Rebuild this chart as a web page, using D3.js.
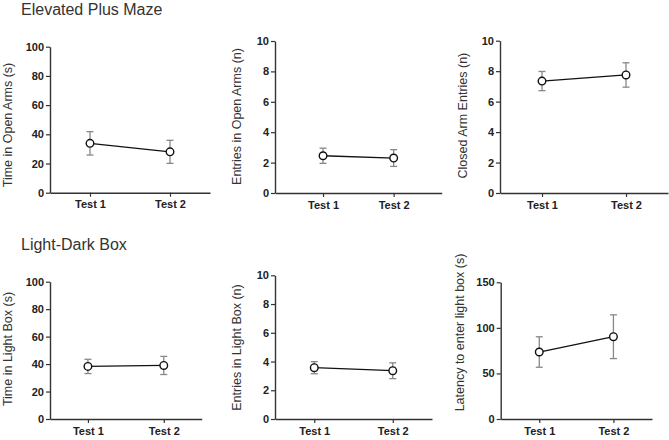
<!DOCTYPE html>
<html><head><meta charset="utf-8">
<script src="https://cdn.jsdelivr.net/npm/d3@7"></script>
<style>
body{margin:0;background:#fff;}
svg{display:block;font-family:"Liberation Sans",Arial,sans-serif;}
</style></head>
<body><svg id="c" width="669" height="440"></svg>
<script>
// ---- data ----
const categories = ["Test 1", "Test 2"];
const sectionTitles = ["Elevated Plus Maze", "Light-Dark Box"];
const yTitles = ["Time in Open Arms (s)", "Entries in Open Arms (n)", "Closed Arm Entries (n)",
                 "Time in Light Box (s)", "Entries in Light Box (n)", "Latency to enter light box (s)"];
const yMax = [100, 10, 10, 100, 10, 150];
const yTickValues = [[0,20,40,60,80,100],[0,2,4,6,8,10],[0,2,4,6,8,10],
                     [0,20,40,60,80,100],[0,2,4,6,8,10],[0,50,100,150]];
const means = [[33.8, 28.0], [2.45, 2.3], [7.35, 7.75], [38.3, 39.0], [3.57, 3.36], [73.5, 90.3]];
const errors = [[8.0, 7.9], [0.5, 0.55], [0.63, 0.8], [5.2, 6.6], [0.42, 0.55], [16.7, 24.0]];

// ---- layout (pixel geometry of each panel) ----
const layout = [
  {ax:50,   top:46.7,  bot:192.7, xEnd:210,   pad:0.5,  lx:8,     ly:125},
  {ax:275,  top:41,    bot:193,   xEnd:441.7, pad:0.68, lx:236.5, ly:116.5},
  {ax:500,  top:40.7,  bot:193,   xEnd:668,   pad:0.5,  lx:463,   ly:115.6},
  {ax:50,   top:281.7, bot:419,   xEnd:201.7, pad:0.5,  lx:8,     ly:349},
  {ax:275,  top:275.3, bot:419,   xEnd:432,   pad:0.5,  lx:236.5, ly:347.5},
  {ax:500.7,top:282.3, bot:419,   xEnd:652,   pad:0.52, lx:460,   ly:332.5}
];
const titlePos = [{x:21, y:15}, {x:21, y:249.5}];

const svg = d3.select("#c");

sectionTitles.forEach((t,i) => {
  svg.append("text").attr("x", titlePos[i].x).attr("y", titlePos[i].y)
    .attr("font-size", 16).attr("fill", "#333").text(t);
});

layout.forEach((L, i) => {
  const g = svg.append("g");
  const x = d3.scalePoint().domain(categories).range([L.ax, L.xEnd]).padding(L.pad);
  const y = d3.scaleLinear().domain([0, yMax[i]]).range([L.bot, L.top]);

  const ya = g.append("g").attr("transform", `translate(${L.ax},0)`)
    .call(d3.axisLeft(y).tickValues(yTickValues[i]).tickSize(4).tickSizeOuter(0).tickPadding(2));
  const xa = g.append("g").attr("transform", `translate(0,${L.bot})`)
    .call(d3.axisBottom(x).tickSize(4).tickSizeOuter(0).tickPadding(4));
  [ya, xa].forEach(a => {
    a.select(".domain").attr("stroke", "#333").attr("stroke-width", 1.4);
    a.selectAll(".tick line").attr("stroke", "#333").attr("stroke-width", 1.2);
    a.selectAll("text").attr("font-size", 11).attr("font-weight", "bold")
      .attr("fill", "#222").attr("font-family", '"Liberation Sans",Arial,sans-serif');
  });

  g.append("text").attr("transform", `translate(${L.lx},${L.ly}) rotate(-90)`)
    .attr("text-anchor", "middle").attr("dy", "0.35em")
    .attr("font-size", 12.5).attr("fill", "#333").text(yTitles[i]);

  const pts = categories.map((c, k) => ({c, m: means[i][k], e: errors[i][k]}));
  // error bars
  const eb = g.selectAll(".eb").data(pts).enter().append("g").attr("stroke", "#888").attr("stroke-width", 1.3);
  eb.append("line").attr("x1", d => x(d.c)).attr("x2", d => x(d.c))
    .attr("y1", d => y(d.m + d.e)).attr("y2", d => y(d.m - d.e));
  eb.append("line").attr("x1", d => x(d.c) - 3.5).attr("x2", d => x(d.c) + 3.5)
    .attr("y1", d => y(d.m + d.e)).attr("y2", d => y(d.m + d.e));
  eb.append("line").attr("x1", d => x(d.c) - 3.5).attr("x2", d => x(d.c) + 3.5)
    .attr("y1", d => y(d.m - d.e)).attr("y2", d => y(d.m - d.e));
  // line
  g.append("path").datum(pts)
    .attr("d", d3.line().x(d => x(d.c)).y(d => y(d.m)))
    .attr("fill", "none").attr("stroke", "#111").attr("stroke-width", 1.3);
  // points
  g.selectAll(".pt").data(pts).enter().append("circle")
    .attr("cx", d => x(d.c)).attr("cy", d => y(d.m)).attr("r", 3.8)
    .attr("fill", "#fff").attr("stroke", "#111").attr("stroke-width", 1.4);
});
</script></body></html>
